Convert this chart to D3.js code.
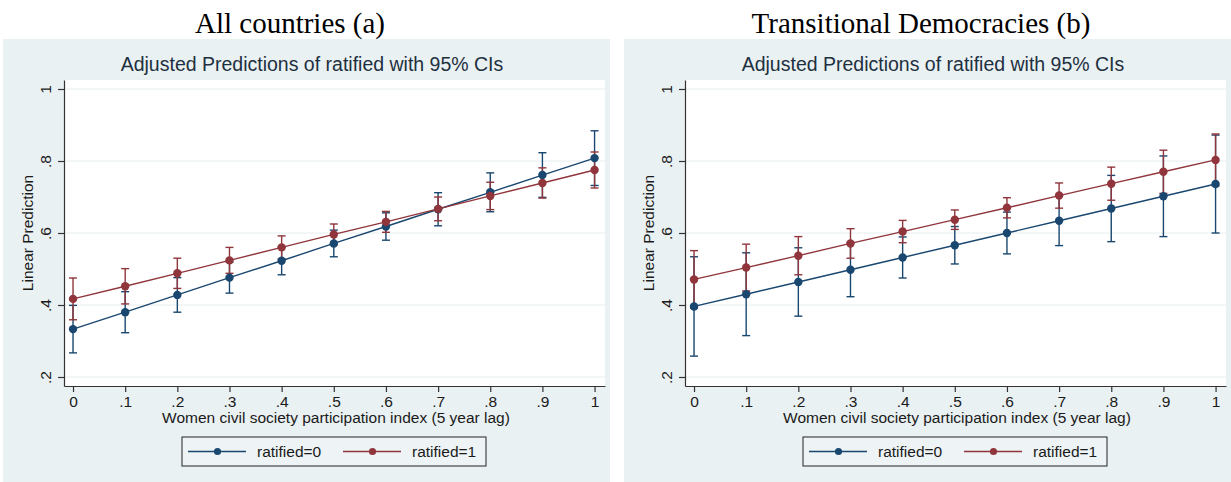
<!DOCTYPE html>
<html lang="en">
<head>
  <meta charset="UTF-8">
  <title>Adjusted Predictions of ratified</title>
  <style>
    body { margin: 0; background: #fff; }
    text { font-family: "Liberation Sans", Arial, sans-serif; }
    .head { font-family: "Liberation Serif", "Times New Roman", serif; font-size: 29px; fill: #000; }
    .axis text { font-size: 15.5px; fill: #1a1a1a; }
    .axis path, .axis line { stroke: #333; stroke-width: 1.2; }
  </style>
</head>
<body>
  <svg id="chart" width="1231" height="482"></svg>

  <script src="https://d3js.org/d3.v7.min.js"></script>
  <script>
    // x values: women civil society participation index (5 year lag)
    const xVals = [0, 0.1, 0.2, 0.3, 0.4, 0.5, 0.6, 0.7, 0.8, 0.9, 1];
    const xTicks = [0, 0.1, 0.2, 0.3, 0.4, 0.5, 0.6, 0.7, 0.8, 0.9, 1];
    const yTicks = [0.2, 0.4, 0.6, 0.8, 1];
    const seriesNames = ["ratified=0", "ratified=1"];

    // (a) All countries: predictions and 95% CI half widths
    const allR0 = [0.333, 0.380, 0.428, 0.476, 0.523, 0.571, 0.618, 0.666, 0.713, 0.761, 0.808];
    const allR0ci = [0.066, 0.057, 0.048, 0.043, 0.039, 0.037, 0.038, 0.046, 0.054, 0.062, 0.076];
    const allR1 = [0.417, 0.452, 0.488, 0.524, 0.560, 0.596, 0.631, 0.667, 0.703, 0.739, 0.775];
    const allR1ci = [0.058, 0.049, 0.042, 0.036, 0.032, 0.029, 0.029, 0.033, 0.038, 0.042, 0.050];

    // (b) Transitional democracies
    const tdR0 = [0.396, 0.430, 0.464, 0.498, 0.532, 0.566, 0.600, 0.634, 0.668, 0.702, 0.736];
    const tdR0ci = [0.138, 0.115, 0.095, 0.075, 0.057, 0.052, 0.058, 0.069, 0.092, 0.112, 0.136];
    const tdR1 = [0.471, 0.504, 0.537, 0.571, 0.604, 0.637, 0.670, 0.704, 0.737, 0.770, 0.803];
    const tdR1ci = [0.080, 0.065, 0.053, 0.041, 0.031, 0.027, 0.028, 0.035, 0.046, 0.060, 0.072];

    const colors = ["#1a476f", "#90353b"];
    const bg = "#eaf1f3";

    const svg = d3.select("#chart");

    // stata style labels: 0, .1, .2 ... 1
    function stataFmt(d) {
      if (d === 0) return "0";
      if (d === 1) return "1";
      return d3.format(".1f")(d).replace(/^0/, "");
    }

    function drawPanel(offsetX, headX, heading, r0, r0ci, r1, r1ci) {
      const g = svg.append("g").attr("transform", `translate(${offsetX},0)`);

      svg.append("text").attr("class", "head")
        .attr("x", headX).attr("y", 33)
        .attr("text-anchor", "middle")
        .text(heading);

      g.append("rect")
        .attr("x", 3).attr("y", 39)
        .attr("width", 607).attr("height", 443)
        .attr("fill", bg);

      g.append("text")
        .attr("x", 312).attr("y", 71)
        .attr("text-anchor", "middle")
        .attr("font-size", "19.5px")
        .attr("fill", "#1e3040")
        .text("Adjusted Predictions of ratified with 95% CIs");

      const x = d3.scaleLinear().domain([-0.0173, 1.02]).range([64, 605]);
      const y = d3.scaleLinear().domain([0.175, 1.025]).range([386, 80]);

      g.append("rect")
        .attr("x", 64).attr("y", 80)
        .attr("width", 541).attr("height", 306)
        .attr("fill", "#fff");

      // grid
      g.selectAll(".grid")
        .data(yTicks)
        .enter()
        .append("line")
        .attr("x1", 65).attr("x2", 605)
        .attr("y1", d => y(d)).attr("y2", d => y(d))
        .attr("stroke", "#e6eef0")
        .attr("stroke-width", 1);

      const yAxis = d3.axisLeft(y).tickValues(yTicks).tickFormat(stataFmt)
        .tickSize(6).tickSizeOuter(0);
      const yg = g.append("g").attr("class", "axis")
        .attr("transform", "translate(64,0)").call(yAxis);
      yg.selectAll("text")
        .attr("transform", "rotate(-90)")
        .attr("x", 0).attr("y", -13).attr("dy", 0)
        .attr("text-anchor", "middle");

      const xAxis = d3.axisBottom(x).tickValues(xTicks).tickFormat(stataFmt)
        .tickSize(6).tickSizeOuter(0);
      const xg = g.append("g").attr("class", "axis")
        .attr("transform", "translate(0,386)").call(xAxis);
      xg.selectAll("text").attr("y", 10);

      g.append("text")
        .attr("transform", "translate(33,233) rotate(-90)")
        .attr("text-anchor", "middle")
        .attr("font-size", "15.5px")
        .attr("fill", "#1a1a1a")
        .text("Linear Prediction");

      g.append("text")
        .attr("x", 336).attr("y", 423)
        .attr("text-anchor", "middle")
        .attr("font-size", "15.5px")
        .attr("fill", "#1a1a1a")
        .text("Women civil society participation index (5 year lag)");

      const series = [
        xVals.map((v, i) => ({ x: v, y: r0[i], ci: r0ci[i] })),
        xVals.map((v, i) => ({ x: v, y: r1[i], ci: r1ci[i] }))
      ];

      // confidence intervals (capped spikes)
      series.forEach((s, k) => {
        const cg = g.append("g")
          .attr("stroke", colors[k])
          .attr("stroke-width", 1.4)
          .attr("fill", "none");
        cg.selectAll(".spike").data(s).enter().append("line")
          .attr("x1", d => x(d.x)).attr("x2", d => x(d.x))
          .attr("y1", d => y(d.y - d.ci)).attr("y2", d => y(d.y + d.ci));
        cg.selectAll(".capLo").data(s).enter().append("line")
          .attr("x1", d => x(d.x) - 4).attr("x2", d => x(d.x) + 4)
          .attr("y1", d => y(d.y - d.ci)).attr("y2", d => y(d.y - d.ci));
        cg.selectAll(".capHi").data(s).enter().append("line")
          .attr("x1", d => x(d.x) - 4).attr("x2", d => x(d.x) + 4)
          .attr("y1", d => y(d.y + d.ci)).attr("y2", d => y(d.y + d.ci));
      });

      const line = d3.line().x(d => x(d.x)).y(d => y(d.y));
      series.forEach((s, k) => {
        g.append("path")
          .datum(s)
          .attr("d", line)
          .attr("fill", "none")
          .attr("stroke", colors[k])
          .attr("stroke-width", 1.4);
        g.selectAll(".pt" + k).data(s).enter().append("circle")
          .attr("cx", d => x(d.x)).attr("cy", d => y(d.y))
          .attr("r", 4.2)
          .attr("fill", colors[k]);
      });

      // legend
      const lg = g.append("g");
      lg.append("rect")
        .attr("x", 182).attr("y", 437)
        .attr("width", 304).attr("height", 29)
        .attr("fill", "#eef3f5")
        .attr("stroke", "#222").attr("stroke-width", 1);
      seriesNames.forEach((name, k) => {
        const lx = 188 + k * 155;
        lg.append("line")
          .attr("x1", lx).attr("x2", lx + 58)
          .attr("y1", 451.5).attr("y2", 451.5)
          .attr("stroke", colors[k]).attr("stroke-width", 1.4);
        lg.append("circle")
          .attr("cx", lx + 29.5).attr("cy", 451.5).attr("r", 3.6)
          .attr("fill", colors[k]);
        lg.append("text")
          .attr("x", lx + 69).attr("y", 457)
          .attr("font-size", "15.5px")
          .attr("fill", "#1a1a1a")
          .text(name);
      });
    }

    drawPanel(0, 290, "All countries (a)", allR0, allR0ci, allR1, allR1ci);
    drawPanel(621, 921, "Transitional Democracies (b)", tdR0, tdR0ci, tdR1, tdR1ci);
  </script>
</body>
</html>
